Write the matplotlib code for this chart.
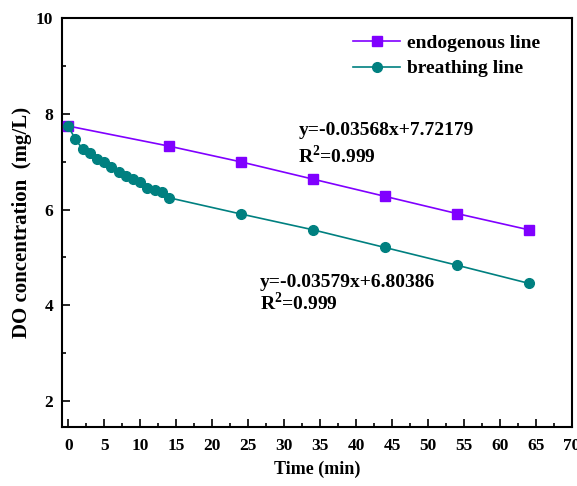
import matplotlib
matplotlib.use("Agg")
import matplotlib.pyplot as plt
from matplotlib.ticker import MultipleLocator

plt.rcParams['font.family'] = ['Liberation Serif', 'DejaVu Serif']
plt.rcParams['font.weight'] = 'bold'
plt.rcParams['mathtext.fontset'] = 'custom'
plt.rcParams['mathtext.rm'] = 'Liberation Serif:bold'

# endogenous respiration (mg/L)
endo_t = [0, 14, 24, 34, 44, 54, 64]
endo_do = [7.75, 7.33, 7.00, 6.64, 6.28, 5.92, 5.58]

# breathing line (mg/L)
breath_t = [0, 1, 2, 3, 4, 5, 6, 7, 8, 9, 10, 11, 12, 13, 14, 24, 34, 44, 54, 64]
breath_do = [7.75, 7.47, 7.27, 7.19, 7.05, 6.99, 6.89, 6.78, 6.70, 6.64,
             6.58, 6.46, 6.42, 6.36, 6.25, 5.91, 5.58, 5.21, 4.84, 4.46]

fig = plt.figure(figsize=(5.77, 4.86), dpi=100)
ax = fig.add_axes([0.107, 0.121, 0.884, 0.841])

ax.plot(endo_t, endo_do, color='#8000ff', lw=1.2, marker='s', ms=6.5,
        label='endogenous line', zorder=3)
ax.plot(breath_t, breath_do, color='#008080', lw=1.2, marker='o', ms=7,
        label='breathing line', zorder=3)

ax.set_xlim(-0.9, 70)
ax.set_ylim(1.45, 10)
ax.xaxis.set_major_locator(MultipleLocator(5))
ax.xaxis.set_minor_locator(MultipleLocator(2.5))
ax.yaxis.set_major_locator(MultipleLocator(2))
ax.yaxis.set_minor_locator(MultipleLocator(1))
ax.tick_params(which='both', direction='in', labelsize=12.5, width=1.2)
ax.tick_params(which='major', length=6)
ax.tick_params(which='minor', length=3)
ax.tick_params(axis='x', pad=7.5)
ax.tick_params(axis='y', pad=6)
for s in ax.spines.values():
    s.set_linewidth(1.5)

ax.set_xlabel('Time (min)', fontsize=13, fontweight='bold', labelpad=5)
ax.set_ylabel('DO concentration  (mg/L)', fontsize=15, fontweight='bold', labelpad=3)

ax.legend(loc='upper right', bbox_to_anchor=(0.953, 0.981), borderaxespad=0,
          frameon=False, fontsize=14, handlelength=2.4, handletextpad=0.35,
          labelspacing=0.42)

ax.text(32.0, 7.66, 'y=-0.03568x+7.72179', fontsize=14, fontweight='bold', va='center')
ax.text(32.0, 7.13, r'R$^2$=0.999', fontsize=14, fontweight='bold', va='center')
ax.text(26.6, 4.48, 'y=-0.03579x+6.80386', fontsize=14, fontweight='bold', va='center')
ax.text(26.6, 4.05, r'R$^2$=0.999', fontsize=14, fontweight='bold', va='center')

fig.savefig('out.png', dpi=100)
